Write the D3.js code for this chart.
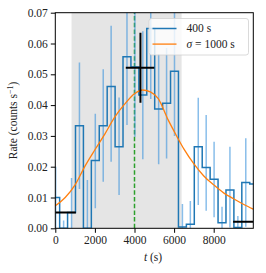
<!DOCTYPE html>
<html>
<head>
<meta charset="utf-8">
<script src="https://cdn.jsdelivr.net/npm/d3@7"></script>
<style>
  html, body { margin: 0; padding: 0; background: #fff; }
  svg text { font-family: "Liberation Serif", "DejaVu Serif", serif; }
</style>
</head>
<body>
<svg id="chart" width="266" height="273"></svg>
<script>
// ---- data ----
const binStart = [-180, 220, 620, 1020, 1420, 1820, 2220, 2620, 3020, 3420, 3820, 4220, 4620,
                  5020, 5420, 5820, 6220, 6620, 7020, 7420, 7820, 8220, 8620, 9020, 9420, 9820];
const binWidth = 400;
const rate     = [0.0100, 0.0000, 0.0051, 0.0333, 0.0000, 0.0220, 0.0333, 0.0460, 0.0265, 0.0557, 0.0524, 0.0433, 0.0649,
                  0.0387, 0.0406, 0.0510, 0.0004, 0.0013, 0.0265, 0.0197, 0.0159, 0.0018, 0.0124, 0.0003, 0.0149, 0.0144];
const rateLo   = [0.0000, 0.0000, 0.0000, 0.0128, 0.0000, 0.0065, 0.0151, 0.0216, 0.0108, 0.0335, 0.0297, 0.0224, 0.0420,
                  0.0208, 0.0227, 0.0300, 0.0000, 0.0000, 0.0076, 0.0057, 0.0036, 0.0000, 0.0003, 0.0000, 0.0005, 0.0010];
const rateHi   = [0.0200, 0.0025, 0.0163, 0.0538, 0.0157, 0.0372, 0.0516, 0.0658, 0.0425, 0.0780, 0.0750, 0.0640, 0.0880,
                  0.0566, 0.0585, 0.0720, 0.0079, 0.0089, 0.0424, 0.0368, 0.0281, 0.0070, 0.0265, 0.0040, 0.0292, 0.0280];

const curveT = [0, 500, 1000, 1500, 2000, 2500, 3000, 3500, 4000, 4400, 4800, 5200, 5700, 6100, 6500,
                7000, 7500, 8000, 8500, 9000, 9500, 10000];
const curveV = [0.0073, 0.0100, 0.0141, 0.0202, 0.0255, 0.0306, 0.0361, 0.0403, 0.0437, 0.0449, 0.0443, 0.0421,
                0.0352, 0.0303, 0.0257, 0.0209, 0.0170, 0.0141, 0.0115, 0.0096, 0.0078, 0.0062];

const shadeRange = [820, 6380];
const markerT = 4000;
const blockStart = [0, 8980];
const blockEnd   = [1040, 10000];
const blockRate  = [0.0051, 0.0021];
const peakT = 4300, peakTLo = 3560, peakTHi = 5000;
const peakRate = 0.0521, peakRateLo = 0.0408, peakRateHi = 0.0635;

const xTicks = [0, 2000, 4000, 6000, 8000];
const yTicks = [0, 0.01, 0.02, 0.03, 0.04, 0.05, 0.06, 0.07];
const legendLabels = ["400 s", "σ = 1000 s"];

// ---- layout ----
const L = 55.3, R = 253.3, T = 12.7, B = 228.3;
const x = d3.scaleLinear().domain([0, 10000]).range([L, R]);
const y = d3.scaleLinear().domain([0, 0.07]).range([B, T]);

const blue = "#1f77b4", orange = "#ff7f0e", green = "#2ca02c";
const svg = d3.select("#chart");

svg.append("defs").append("clipPath").attr("id", "clip")
  .append("rect").attr("x", L).attr("y", T).attr("width", R - L).attr("height", B - T);
const g = svg.append("g").attr("clip-path", "url(#clip)");

// shaded interval
g.append("rect")
  .attr("x", x(shadeRange[0])).attr("y", T)
  .attr("width", x(shadeRange[1]) - x(shadeRange[0])).attr("height", B - T)
  .attr("fill", "#e5e5e5");

// green dashed marker
g.append("line")
  .attr("x1", x(markerT)).attr("x2", x(markerT)).attr("y1", y(0)).attr("y2", y(0.07))
  .attr("stroke", green).attr("stroke-width", 1.5).attr("stroke-dasharray", "4.5,2.2");

// error bars
const centers = binStart.map(s => s + binWidth / 2);
g.selectAll("line.err").data(centers).enter().append("line")
  .attr("class", "err")
  .attr("x1", d => x(d)).attr("x2", d => x(d))
  .attr("y1", (d, i) => y(rateLo[i])).attr("y2", (d, i) => y(rateHi[i]))
  .attr("stroke", "#3b93dc").attr("stroke-opacity", 0.6).attr("stroke-width", 1.5);

// step histogram
const stepPts = binStart.map((s, i) => [s, rate[i]]);
stepPts.push([binStart[binStart.length - 1] + binWidth, rate[rate.length - 1]]);
g.append("path")
  .attr("d", d3.line().x(d => x(d[0])).y(d => y(d[1])).curve(d3.curveStepAfter)(stepPts))
  .attr("fill", "none").attr("stroke", blue).attr("stroke-width", 1.5);

// orange smooth curve
g.append("path")
  .attr("d", d3.line().x((d, i) => x(curveT[i])).y(d => y(d)).curve(d3.curveMonotoneX)(curveV))
  .attr("fill", "none").attr("stroke", orange).attr("stroke-width", 1.3);

// black blocks
g.selectAll("line.block").data(blockRate).enter().append("line")
  .attr("x1", (d, i) => x(blockStart[i])).attr("x2", (d, i) => x(blockEnd[i]))
  .attr("y1", d => y(d)).attr("y2", d => y(d))
  .attr("stroke", "#000").attr("stroke-width", 2);

// black cross
g.append("line").attr("x1", x(peakTLo)).attr("x2", x(peakTHi))
  .attr("y1", y(peakRate)).attr("y2", y(peakRate)).attr("stroke", "#000").attr("stroke-width", 2);
g.append("line").attr("x1", x(peakT)).attr("x2", x(peakT))
  .attr("y1", y(peakRateLo)).attr("y2", y(peakRateHi)).attr("stroke", "#000").attr("stroke-width", 2);

// axes
const fs = 11.5;
const xAxis = svg.append("g").attr("transform", `translate(0,${B})`)
  .call(d3.axisBottom(x).tickValues(xTicks).tickFormat(d3.format("d")).tickSize(4.5).tickPadding(3));
const yAxis = svg.append("g").attr("transform", `translate(${L},0)`)
  .call(d3.axisLeft(y).tickValues(yTicks).tickFormat(d3.format(".2f")).tickSize(4.5).tickPadding(3));
[xAxis, yAxis].forEach(a => {
  a.select(".domain").remove();
  a.selectAll(".tick line").attr("stroke", "#000").attr("stroke-width", 1);
  a.selectAll(".tick text").attr("font-size", fs).attr("fill", "#222")
    .attr("font-family", "'Liberation Serif', serif");
});

// frame
svg.append("rect").attr("x", L).attr("y", T).attr("width", R - L).attr("height", B - T)
  .attr("fill", "none").attr("stroke", "#000").attr("stroke-width", 1);

// axis labels
const xl = svg.append("text").attr("x", 153).attr("y", 261)
  .attr("text-anchor", "middle").attr("font-size", fs).attr("fill", "#222");
xl.append("tspan").attr("font-style", "italic").text("t");
xl.append("tspan").text(" (s)");

const yl = svg.append("text").attr("transform", `translate(17,${(T + B) / 2}) rotate(-90)`)
  .attr("text-anchor", "middle").attr("font-size", fs).attr("fill", "#222");
yl.append("tspan").text("Rate (counts s");
yl.append("tspan").attr("font-size", 8).attr("dy", -4.5).text("−1");
yl.append("tspan").attr("dy", 4.5).text(")");

// legend
const lg = svg.append("g");
lg.append("rect").attr("x", 149).attr("y", 18.5).attr("width", 99.5).attr("height", 36.5)
  .attr("rx", 2.5).attr("fill", "#fff").attr("fill-opacity", 0.8)
  .attr("stroke", "#d0d0d0").attr("stroke-width", 0.8);
const legColors = [blue, orange];
legendLabels.forEach((lab, i) => {
  const yy = 28.5 + i * 15.6;
  lg.append("line").attr("x1", 152.5).attr("x2", 176.5).attr("y1", yy).attr("y2", yy)
    .attr("stroke", legColors[i]).attr("stroke-width", i === 0 ? 1.5 : 1.3);
  const t = lg.append("text").attr("x", 186.5).attr("y", yy + 3.8).attr("font-size", fs).attr("fill", "#222");
  if (i === 1) {
    t.append("tspan").attr("font-style", "italic").text("σ");
    t.append("tspan").text(" = 1000 s");
  } else {
    t.text(lab);
  }
});
</script>
</body>
</html>
